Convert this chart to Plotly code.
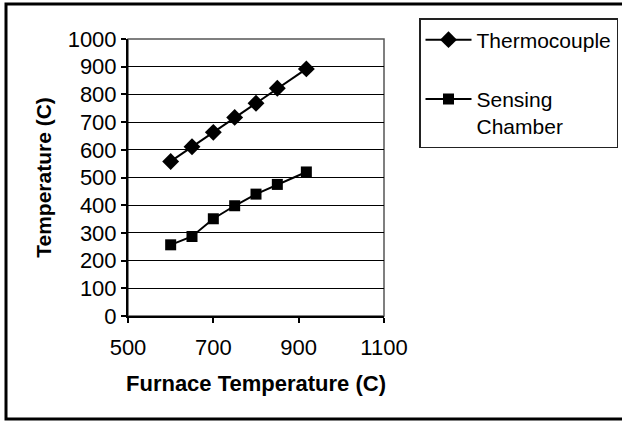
import plotly.graph_objects as go

furnace_temp = [600, 650, 700, 750, 800, 850, 918]
thermocouple = [558, 611, 663, 717, 768, 822, 892]
sensing_chamber = [257, 287, 351, 398, 440, 475, 520]
series_names = ["Thermocouple", "Sensing<br>Chamber"]

W, H = 622, 423
L, R, T, B = 128, 238, 39, 107
pw, ph = W - L - R, H - T - B

def px(x):
    return (x - L) / pw

def py(y):
    return (H - B - y) / ph

FONT = "Liberation Sans, Arial, sans-serif"

fig = go.Figure()
fig.add_trace(go.Scatter(
    x=furnace_temp, y=thermocouple, name=series_names[0], mode="lines+markers",
    line=dict(color="black", width=2),
    marker=dict(symbol="diamond", size=13, color="black"),
    legendgroup="a"))
fig.add_trace(go.Scatter(
    x=furnace_temp, y=sensing_chamber, name=series_names[1], mode="lines+markers",
    line=dict(color="black", width=2),
    marker=dict(symbol="square", size=11, color="black"),
    legendgroup="b"))

fig.update_layout(
    width=W, height=H,
    margin=dict(l=L, r=R, t=T, b=B, pad=0, autoexpand=False),
    paper_bgcolor="white", plot_bgcolor="white",
    font=dict(family=FONT, color="black", size=21),
    showlegend=True,
    legend=dict(
        x=px(419), y=py(18), xanchor="left", yanchor="top",
        bordercolor="#222222", borderwidth=1.5, bgcolor="white",
        font=dict(family=FONT, size=21, color="black"),
        traceorder="grouped", tracegroupgap=29, valign="top",
        itemwidth=46,
    ),
    xaxis=dict(
        range=[500, 1100], tickvals=[500, 700, 900, 1100],
        showgrid=False, zeroline=False, automargin=False,
        showline=True, linecolor="black", linewidth=2,
        ticks="outside", ticklen=5, tickcolor="black", tickwidth=1.5,
        tickfont=dict(family=FONT, size=22), ticklabelstandoff=6,
        title=dict(text="<b>Furnace Temperature (C)</b>", font=dict(family=FONT, size=22), standoff=16),
    ),
    yaxis=dict(
        range=[0, 1000], tickvals=list(range(0, 1001, 100)),
        showgrid=True, gridcolor="black", gridwidth=1, zeroline=False, automargin=False,
        showline=True, linecolor="black", linewidth=2,
        ticks="outside", ticklen=5, tickcolor="black", tickwidth=1.5,
        tickfont=dict(family=FONT, size=22), ticklabelstandoff=0,
        title=dict(text="<b>Temperature (C)</b>", font=dict(family=FONT, size=21), standoff=10),
    ),
    shapes=[
        dict(type="rect", xref="paper", yref="paper", x0=0, x1=1, y0=0, y1=1,
             line=dict(color="#555555", width=1.5), layer="below"),
        dict(type="rect", xref="paper", yref="paper",
             x0=px(6), x1=px(640), y0=py(419), y1=py(4),
             line=dict(color="black", width=3), layer="below"),
    ],
)

fig.write_html("out.html", config={"displayModeBar": False},
               post_script="document.body.style.margin='0';")
